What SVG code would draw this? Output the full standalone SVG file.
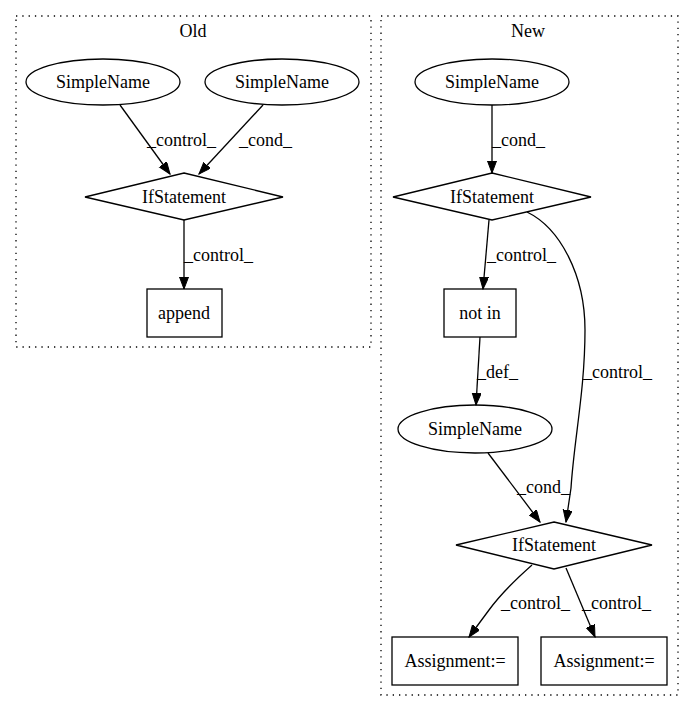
<svg xmlns="http://www.w3.org/2000/svg" width="693" height="712" viewBox="0 0 693 712">
<style>
text{font-family:"Liberation Serif","Times New Roman",serif;font-size:18px;fill:#000}
.n{text-anchor:middle}
.shape{fill:none;stroke:#000;stroke-width:1.3}
.cl{fill:none;stroke:#000;stroke-width:1.3;stroke-dasharray:1.3,5}
.e{fill:none;stroke:#000;stroke-width:1.3;marker-end:url(#ah)}
</style>
<defs>
<marker id="ah" markerWidth="13" markerHeight="10" refX="12" refY="4.5" orient="auto" markerUnits="userSpaceOnUse">
<path d="M0,0 L12,4.5 L0,9 Z" fill="#000" stroke="#000" stroke-width="1"/>
</marker>
</defs>
<rect width="693" height="712" fill="#fff"/>
<g id="cluster_old">
<rect class="cl" x="16" y="16" width="355" height="331"/>
<text class="n" x="193" y="37">Old</text>
</g>
<g id="cluster_new">
<rect class="cl" x="381" y="16" width="297" height="679"/>
<text class="n" x="528" y="37">New</text>
</g>
<g id="connectors">
<path class="e" d="M120,105 L170,174"/>
<text x="147" y="146">_control_</text>
<path class="e" d="M263,105 L199,174"/>
<text x="239" y="146">_cond_</text>
<path class="e" d="M184,220 L184,289"/>
<text x="184" y="261">_control_</text>
<path class="e" d="M492,105 L492,173"/>
<text x="492" y="146">_cond_</text>
<path class="e" d="M489,220 L483,289"/>
<text x="487" y="261">_control_</text>
<path class="e" d="M480,337 L476,405"/>
<text x="477" y="378">_def_</text>
<path class="e" d="M527,212 C560,228 585,275 585,330 C585,390 574,440 571,488 L566,522"/>
<text x="583" y="378">_control_</text>
<path class="e" d="M488,453 L540,522"/>
<text x="517" y="493">_cond_</text>
<path class="e" d="M532,565 C515,580 500,595 489,610 L469,637"/>
<text x="501" y="609">_control_</text>
<path class="e" d="M566,568 L595,637"/>
<text x="582" y="609">_control_</text>
</g>
<g id="old_simplename1">
<ellipse class="shape" cx="103" cy="82" rx="77" ry="23"/>
<text class="n" x="103" y="88">SimpleName</text>
</g>
<g id="old_simplename2">
<ellipse class="shape" cx="282" cy="82" rx="77" ry="23"/>
<text class="n" x="282" y="88">SimpleName</text>
</g>
<g id="old_ifstatement">
<polygon class="shape" points="184,173 283,197 184,220 85,197"/>
<text class="n" x="184" y="203">IfStatement</text>
</g>
<g id="old_append">
<rect class="shape" x="147" y="289" width="75" height="48"/>
<text class="n" x="184" y="319">append</text>
</g>
<g id="new_simplename1">
<ellipse class="shape" cx="492" cy="82" rx="77" ry="23"/>
<text class="n" x="492" y="88">SimpleName</text>
</g>
<g id="new_ifstatement1">
<polygon class="shape" points="492,173 591,197 492,220 393,197"/>
<text class="n" x="492" y="203">IfStatement</text>
</g>
<g id="new_notin">
<rect class="shape" x="444" y="289" width="72" height="48"/>
<text class="n" x="480" y="319">not in</text>
</g>
<g id="new_simplename2">
<ellipse class="shape" cx="475" cy="429" rx="77" ry="24"/>
<text class="n" x="475" y="435">SimpleName</text>
</g>
<g id="new_ifstatement2">
<polygon class="shape" points="554,522 652,545 554,569 456,545"/>
<text class="n" x="554" y="551">IfStatement</text>
</g>
<g id="new_assign1">
<rect class="shape" x="392" y="637" width="126" height="48"/>
<text class="n" x="455" y="667">Assignment:=</text>
</g>
<g id="new_assign2">
<rect class="shape" x="541" y="637" width="126" height="48"/>
<text class="n" x="604" y="667">Assignment:=</text>
</g>
</svg>
